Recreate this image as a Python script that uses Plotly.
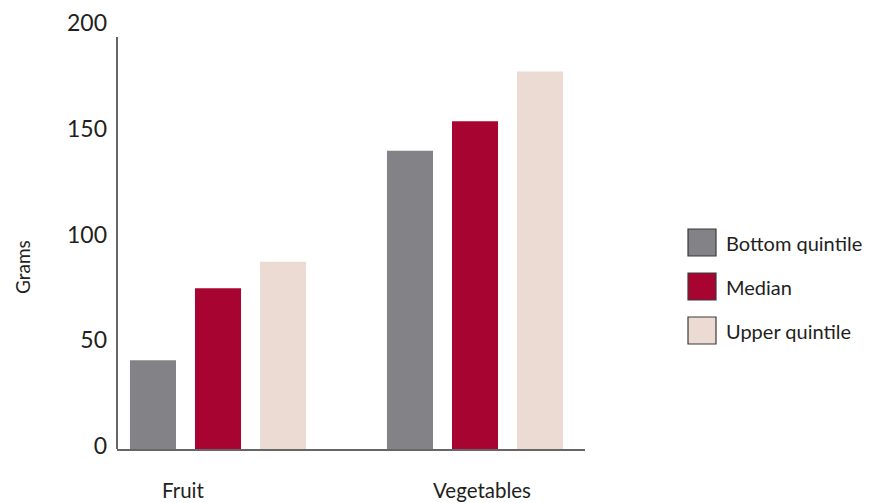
import plotly.graph_objects as go

categories = ["Fruit", "Vegetables"]
series_names = ["Bottom quintile", "Median", "Upper quintile"]
bottom_quintile = [42, 141]
median = [76, 155]
upper_quintile = [88.5, 178.5]
series_values = [bottom_quintile, median, upper_quintile]
colors = ["#838387", "#A80432", "#EBDBD2"]
y_ticks = [0, 50, 100, 150, 200]

FONT = "Lato"
TXT = "#231f20"

OFF = 8  # page body margin
W, H = 870 - OFF, 503 - OFF
PL, PR, PT, PB = 117, 585, 26, 449  # plot area in window pixels
L, R, T, B = PL - OFF, W - (PR - OFF), PT - OFF, H - (PB - OFF)
pw, ph = W - L - R, H - T - B
Y_MAX = 200


def px(xw):
    return (xw - PL) / pw


def py(yw):
    return (PB - yw) / ph


fig = go.Figure()
for name, vals, col in zip(series_names, series_values, colors):
    fig.add_trace(go.Bar(x=list(range(len(categories))), y=vals, name=name,
                         marker=dict(color=col, line=dict(width=0)),
                         showlegend=False))

# category labels
cat_pos = [-0.136, 1.027]
annotations = []
for c, xp in zip(categories, cat_pos):
    annotations.append(dict(x=xp, y=py(490), xref="x", yref="paper", text=c,
                            showarrow=False, yanchor="middle",
                            font=dict(size=20.5, color=TXT, family=FONT)))

# custom legend
shapes = []
for i, (name, col) in enumerate(zip(series_names, colors)):
    top = 229 + 44 * i
    shapes.append(dict(type="rect", xref="paper", yref="paper",
                       x0=px(688), x1=px(716), y0=py(top + 27), y1=py(top),
                       fillcolor=col, line=dict(color="#3a3a3a", width=1.2)))
    annotations.append(dict(x=px(724), y=py(top + 13.5),
                            xref="paper", yref="paper", text=name,
                            showarrow=False, xanchor="left", yanchor="middle",
                            font=dict(size=20, color=TXT, family=FONT)))

annotations.append(dict(x=px(22), y=py(267), xref="paper", yref="paper",
                        text="Grams", textangle=-90, showarrow=False,
                        xanchor="center", yanchor="middle",
                        font=dict(size=19, color=TXT, family=FONT)))

# y axis line (stops a little short of the top tick, as in the original)
shapes.append(dict(type="line", xref="paper", yref="paper", x0=0, x1=0,
                   y0=0, y1=py(37), line=dict(color="#666666", width=2)))

fig.update_layout(
    width=W, height=H,
    margin=dict(l=L, r=R, t=T, b=B, autoexpand=False),
    paper_bgcolor="white", plot_bgcolor="white",
    barmode="group", bargap=0.241, bargroupgap=0.292,
    font=dict(family=FONT, color=TXT),
    xaxis=dict(range=[-0.393, 1.428], showticklabels=False, showgrid=False,
               zeroline=False, showline=True, linecolor="#666666", linewidth=2,
               ticks="", automargin=False),
    yaxis=dict(range=[0, Y_MAX], tickvals=y_ticks, showgrid=False,
               zeroline=False, showline=False, ticks="", automargin=False,
               ticklabelstandoff=9, ticklabelshift=-3,
               tickfont=dict(size=23, color=TXT, family=FONT)),
    annotations=annotations,
    shapes=shapes,
)

fig.write_html("out.html")
